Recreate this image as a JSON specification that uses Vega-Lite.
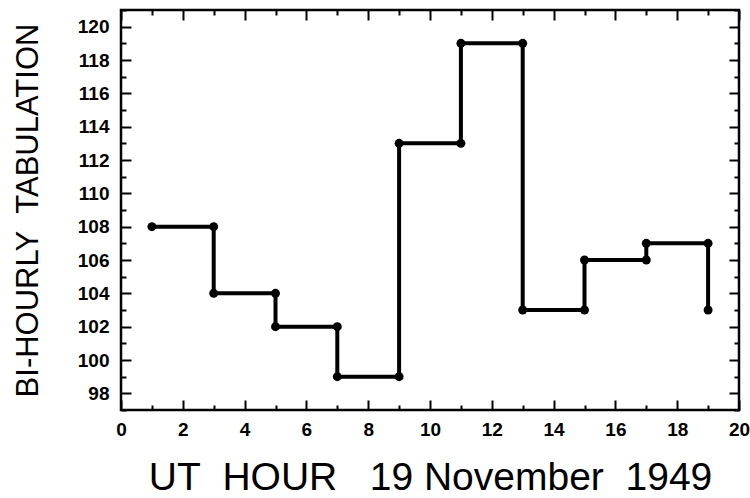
{
  "$schema": "https://vega.github.io/schema/vega-lite/v6.json",
  "width": 618,
  "height": 400,
  "autosize": {"type": "none"},
  "padding": {"left": 121, "top": 10, "right": 11, "bottom": 88},
  "background": "white",
  "config": {
    "view": {"stroke": "black", "strokeWidth": 2.5},
    "font": "Liberation Sans",
    "axis": {
      "domain": false,
      "grid": false,
      "tickColor": "black",
      "tickWidth": 2,
      "labelColor": "black",
      "labelFont": "Liberation Sans",
      "labelFontWeight": "bold",
      "labelFontSize": 19,
      "titleColor": "black",
      "titleFont": "Liberation Sans",
      "titleFontWeight": "normal"
    }
  },
  "data": {
    "values": [
      {"i": 1, "hour": 1, "v": 108},
      {"i": 2, "hour": 3, "v": 108},
      {"i": 3, "hour": 3, "v": 104},
      {"i": 4, "hour": 5, "v": 104},
      {"i": 5, "hour": 5, "v": 102},
      {"i": 6, "hour": 7, "v": 102},
      {"i": 7, "hour": 7, "v": 99},
      {"i": 8, "hour": 9, "v": 99},
      {"i": 9, "hour": 9, "v": 113},
      {"i": 10, "hour": 11, "v": 113},
      {"i": 11, "hour": 11, "v": 119},
      {"i": 12, "hour": 13, "v": 119},
      {"i": 13, "hour": 13, "v": 103},
      {"i": 14, "hour": 15, "v": 103},
      {"i": 15, "hour": 15, "v": 106},
      {"i": 16, "hour": 17, "v": 106},
      {"i": 17, "hour": 17, "v": 107},
      {"i": 18, "hour": 19, "v": 107},
      {"i": 19, "hour": 19, "v": 103}
    ]
  },
  "layer": [
    {
      "mark": {"type": "line", "color": "black", "strokeWidth": 4, "interpolate": "linear"},
      "encoding": {
        "x": {
          "field": "hour", "type": "quantitative",
          "scale": {"domain": [0, 20], "nice": false, "zero": false},
          "axis": {
            "orient": "bottom",
            "values": [0,1,2,3,4,5,6,7,8,9,10,11,12,13,14,15,16,17,18,19,20],
            "tickSize": {"condition": {"test": "datum.value % 2 == 0", "value": -10}, "value": -5},
            "labelExpr": "datum.value % 2 == 0 ? datum.label : ''",
            "labelPadding": 20,
            "labelFlush": false,
            "title": "UT\u00a0\u00a0HOUR\u00a0\u00a0\u00a019 November\u00a0\u00a01949",
            "titleFontSize": 39,
            "titleBaseline": "alphabetic",
            "titleY": 79
          }
        },
        "y": {
          "field": "v", "type": "quantitative",
          "scale": {"domain": [97, 121], "nice": false, "zero": false},
          "axis": {
            "orient": "left",
            "values": [97,98,99,100,101,102,103,104,105,106,107,108,109,110,111,112,113,114,115,116,117,118,119,120,121],
            "tickSize": {"condition": {"test": "datum.value % 2 == 0", "value": -10}, "value": -5},
            "labelExpr": "datum.value % 2 == 0 ? datum.label : ''",
            "labelPadding": 22,
            "labelFlush": false,
            "title": "BI-HOURLY\u00a0\u00a0TABULATION",
            "titleFontSize": 31,
            "titleBaseline": "alphabetic",
            "titleX": -84
          }
        },
        "order": {"field": "i", "type": "quantitative"}
      }
    },
    {
      "mark": {"type": "point", "filled": true, "color": "black", "opacity": 1, "size": 80},
      "encoding": {
        "x": {
          "field": "hour", "type": "quantitative",
          "axis": {
            "orient": "top",
            "values": [0,1,2,3,4,5,6,7,8,9,10,11,12,13,14,15,16,17,18,19,20],
            "tickSize": {"condition": {"test": "datum.value % 2 == 0", "value": -10}, "value": -5},
            "labels": false,
            "title": null
          }
        },
        "y": {
          "field": "v", "type": "quantitative",
          "axis": {
            "orient": "right",
            "values": [97,98,99,100,101,102,103,104,105,106,107,108,109,110,111,112,113,114,115,116,117,118,119,120,121],
            "tickSize": {"condition": {"test": "datum.value % 2 == 0", "value": -10}, "value": -5},
            "labels": false,
            "title": null
          }
        }
      }
    }
  ],
  "resolve": {"axis": {"x": "independent", "y": "independent"}}
}
